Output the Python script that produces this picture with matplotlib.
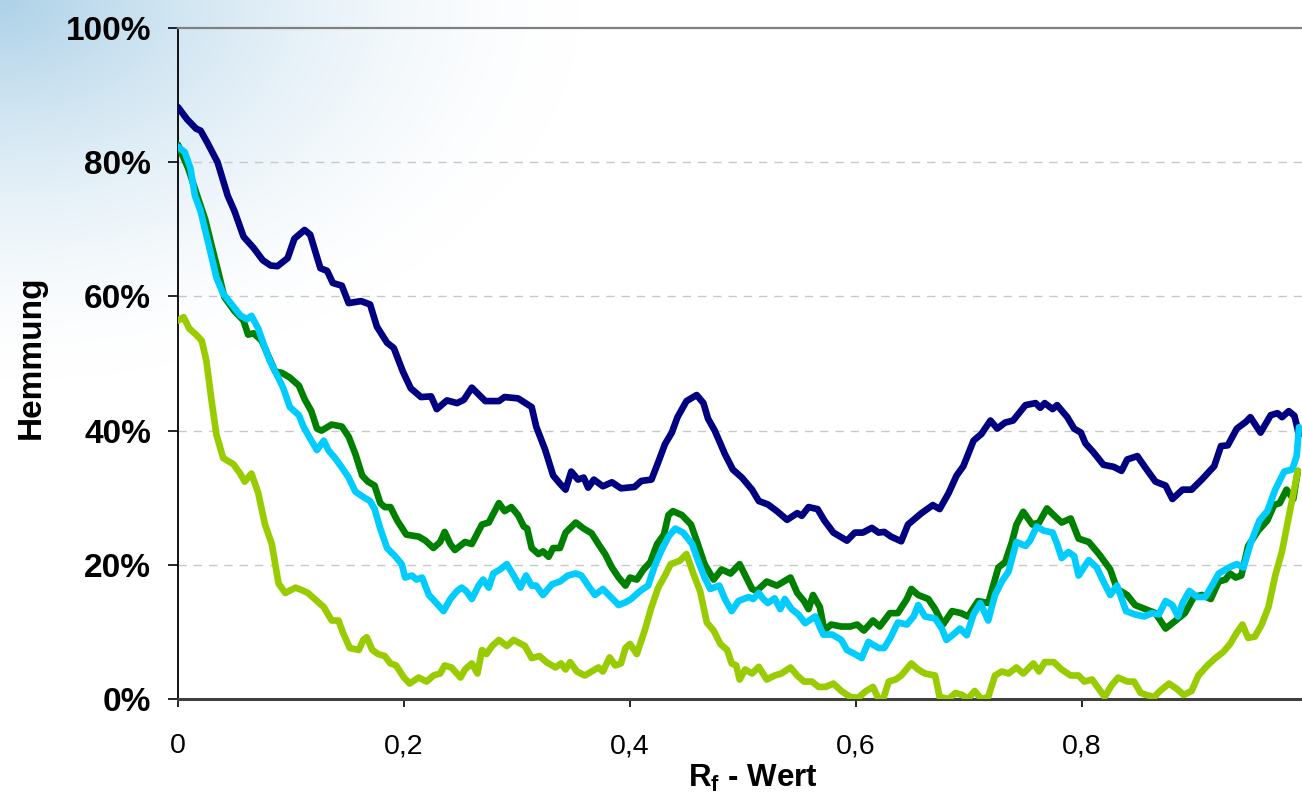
import numpy as np
import matplotlib
matplotlib.use("Agg")
import matplotlib.pyplot as plt

plt.rcParams['font.family'] = ['Liberation Sans', 'DejaVu Sans']
plt.rcParams['mathtext.fontset'] = 'custom'
plt.rcParams['mathtext.rm'] = 'Liberation Sans'
plt.rcParams['mathtext.bf'] = 'Liberation Sans:bold'
plt.rcParams['mathtext.it'] = 'Liberation Sans:italic'

# ---- data: inhibition (%) along the Rf axis, four tracks ----
navy_x = [0, .008, .016, .020, .026, .035, .044, .050, .058, .067, .075, .082, .088, .097, .103,
          .112, .117, .126, .132, .137, .145, .151, .162, .170, .176, .185, .191, .199, .206,
          .215, .224, .229, .238, .247, .253, .260, .272, .284, .289, .301, .313, .317, .325,
          .332, .338, .343, .348, .354, .359, .363, .368, .376, .384, .392, .404, .410, .419,
          .425, .431, .437, .442, .450, .459, .465, .469, .475, .484, .491, .499, .508, .514,
          .522, .530, .539, .548, .552, .558, .566, .572, .580, .592, .599, .606, .614, .620,
          .625, .631, .640, .646, .651, .658, .668, .674, .682, .689, .695, .704, .711, .719,
          .725, .732, .739, .750, .759, .763, .767, .774, .778, .787, .793, .799, .803, .810,
          .819, .828, .835, .840, .849, .856, .865, .874, .880, .889, .897, .906, .917, .923,
          .929, .937, .945, .949, .958, .967, .973, .977, .983, .988, .992]
navy_y = [88.2, 86.4, 85.0, 84.7, 82.9, 80.0, 75.0, 72.7, 68.9, 67.2, 65.4, 64.6, 64.5, 65.7, 68.6,
          69.9, 69.2, 64.2, 63.8, 62.0, 61.6, 59.0, 59.3, 58.8, 55.5, 53.1, 52.3, 48.8, 46.3,
          45.0, 45.1, 43.2, 44.5, 44.1, 44.6, 46.4, 44.4, 44.4, 45.0, 44.8, 43.5, 40.6, 37.1,
          33.3, 32.1, 31.2, 33.9, 32.7, 33.0, 31.5, 32.7, 31.7, 32.3, 31.4, 31.6, 32.5, 32.7,
          35.3, 38.0, 39.7, 42.0, 44.4, 45.3, 44.1, 41.8, 40.0, 36.5, 34.2, 33.0, 31.2, 29.5,
          29.0, 28.0, 26.7, 27.7, 27.3, 28.6, 28.3, 26.6, 24.8, 23.6, 24.8, 24.8, 25.5, 24.8,
          24.9, 24.2, 23.5, 26.0, 26.7, 27.7, 28.9, 28.3, 30.7, 33.3, 34.7, 38.5, 39.5, 41.5,
          40.3, 41.2, 41.5, 43.8, 44.1, 43.4, 44.1, 43.2, 43.8, 42.0, 40.3, 39.7, 38.1, 36.8,
          34.9, 34.6, 34.0, 35.7, 36.2, 34.5, 32.4, 31.8, 29.8, 31.2, 31.2, 32.7, 34.7, 37.7,
          37.8, 40.3, 41.3, 42.0, 39.7, 42.3, 42.6, 42.0, 42.9, 42.2, 39.4]

green_x = [0, .009, .018, .024, .030, .036, .041, .050, .058, .062, .067, .074, .080, .086, .092,
           .099, .107, .112, .118, .123, .127, .136, .145, .151, .157, .163, .168, .174, .179,
           .183, .188, .194, .202, .213, .219, .226, .232, .236, .241, .245, .254, .260, .269,
           .275, .284, .289, .295, .301, .306, .309, .313, .319, .323, .328, .332, .338, .343,
           .352, .359, .366, .372, .378, .384, .390, .396, .400, .406, .412, .418, .424, .430,
           .434, .438, .446, .454, .460, .466, .474, .481, .489, .497, .508, .512, .521, .530,
           .542, .548, .554, .558, .562, .568, .572, .578, .587, .595, .601, .607, .615, .621,
           .630, .637, .645, .649, .655, .664, .670, .677, .685, .693, .699, .708, .717, .726,
           .732, .738, .742, .748, .756, .762, .769, .775, .782, .790, .797, .806, .815, .825,
           .831, .840, .847, .856, .865, .874, .883, .891, .899, .906, .914, .921, .927, .931,
           .936, .941, .947, .956, .964, .970, .975, .981, .987, .991]
green_y = [82.6, 79.1, 74.5, 71.5, 67.4, 63.4, 59.9, 57.8, 56.4, 54.3, 54.5, 53.4, 51.1, 48.8, 48.6,
           47.9, 46.7, 44.7, 42.9, 40.3, 40.0, 40.9, 40.6, 39.1, 36.5, 33.3, 32.4, 31.8, 29.2,
           28.6, 28.6, 26.6, 24.5, 24.2, 23.6, 22.5, 23.4, 24.9, 23.1, 22.2, 23.4, 23.1, 26.0,
           26.3, 29.2, 28.0, 28.6, 27.4, 25.7, 25.4, 22.5, 21.6, 22.0, 21.2, 22.5, 22.5, 24.8,
           26.3, 25.4, 24.7, 23.1, 21.6, 19.6, 18.1, 16.9, 18.1, 17.8, 19.3, 20.4, 23.1, 24.5,
           27.4, 28.0, 27.4, 26.0, 23.1, 20.1, 17.8, 19.3, 18.7, 20.1, 16.4, 16.1, 17.5, 16.9,
           18.1, 15.8, 14.6, 13.4, 15.5, 13.7, 10.2, 11.1, 10.8, 10.8, 11.1, 10.2, 11.7, 10.8,
           12.8, 12.8, 14.9, 16.4, 15.5, 14.9, 13.4, 11.1, 13.1, 12.8, 12.3, 14.6, 14.3, 19.6,
           20.4, 23.4, 26.0, 27.9, 26.0, 26.3, 28.4, 27.4, 26.3, 26.9, 23.9, 23.4, 21.6, 19.3,
           16.4, 15.5, 14.0, 13.4, 12.8, 10.5, 11.7, 12.8, 15.2, 15.5, 14.9, 17.5, 17.8, 18.7,
           18.1, 18.4, 22.8, 25.1, 26.6, 28.9, 29.2, 31.2, 29.8, 34.0]

cyan_x = [0, .006, .011, .015, .020, .025, .030, .034, .040, .048, .055, .061, .065, .071, .076,
          .081, .087, .093, .099, .107, .111, .117, .123, .129, .133, .139, .145, .151, .157,
          .164, .170, .174, .179, .185, .192, .198, .201, .207, .211, .216, .222, .227, .235,
          .241, .247, .251, .255, .260, .266, .270, .275, .279, .285, .291, .297, .303, .308,
          .313, .317, .323, .331, .338, .345, .352, .357, .363, .369, .376, .383, .390, .396,
          .401, .409, .416, .422, .428, .434, .440, .447, .455, .460, .466, .471, .479, .484,
          .490, .496, .505, .509, .514, .518, .522, .528, .533, .537, .543, .549, .555, .564,
          .571, .579, .587, .592, .599, .605, .611, .620, .625, .631, .637, .645, .651, .655,
          .661, .670, .676, .680, .686, .692, .698, .704, .710, .717, .723, .729, .735, .742,
          .750, .754, .760, .766, .774, .778, .782, .788, .793, .797, .806, .813, .819, .825,
          .831, .839, .847, .855, .862, .868, .874, .880, .885, .889, .895, .902, .909, .915,
          .921, .930, .937, .943, .949, .957, .964, .971, .979, .986, .990, .992]
cyan_y = [82.3, 81.5, 79.1, 75.0, 72.7, 69.2, 65.7, 62.8, 60.4, 58.7, 57.2, 56.6, 57.1, 55.2, 52.8,
          50.5, 48.5, 46.4, 43.5, 42.3, 40.6, 38.8, 37.1, 38.5, 37.1, 35.9, 34.5, 33.0, 30.9,
          30.1, 29.5, 28.3, 25.4, 22.5, 21.3, 20.1, 18.1, 18.4, 17.8, 18.1, 15.5, 14.6, 13.1,
          14.9, 16.1, 16.6, 16.1, 14.9, 16.9, 17.8, 16.6, 18.7, 19.3, 20.1, 18.4, 16.6, 18.4,
          16.9, 16.9, 15.5, 17.1, 17.5, 18.4, 18.7, 18.4, 16.9, 15.5, 16.4, 15.2, 14.0, 14.4,
          14.9, 16.1, 16.9, 19.9, 22.2, 24.2, 25.4, 24.8, 23.1, 20.7, 18.1, 16.4, 16.9, 14.9,
          13.1, 14.6, 15.2, 14.9, 15.8, 14.9, 14.3, 15.0, 13.4, 14.9, 13.4, 12.6, 11.3, 12.3,
          9.6, 9.6, 8.8, 7.3, 6.7, 6.1, 8.5, 7.6, 7.6, 9.3, 11.4, 11.1, 12.3, 14.0,
          12.3, 12.0, 10.5, 8.8, 9.6, 10.5, 9.5, 12.6, 14.3, 11.7, 15.5, 17.5, 19.0, 23.4,
          22.8, 23.6, 25.7, 25.1, 24.8, 23.1, 21.0, 21.9, 21.3, 18.4, 20.7, 19.6, 17.5, 15.5,
          16.9, 13.1, 12.6, 12.3, 12.8, 12.6, 14.6, 14.0, 12.3, 14.3, 16.1, 15.2, 15.2, 16.9,
          18.7, 19.6, 20.1, 19.6, 23.1, 26.6, 28.0, 31.2, 33.9, 34.2, 36.2, 40.5]

lime_x = [0, .005, .010, .016, .021, .025, .030, .034, .040, .049, .055, .059, .065, .071, .077,
          .083, .089, .095, .104, .110, .115, .123, .129, .136, .142, .146, .152, .160, .164,
          .167, .172, .177, .183, .188, .193, .200, .205, .213, .220, .226, .232, .236, .242,
          .250, .254, .260, .265, .269, .273, .278, .284, .291, .297, .307, .313, .320, .326,
          .334, .339, .343, .347, .353, .360, .366, .372, .376, .382, .387, .392, .396, .400,
          .406, .413, .419, .425, .431, .436, .444, .450, .456, .462, .468, .474, .480, .486,
          .490, .494, .497, .502, .508, .514, .521, .528, .534, .542, .548, .554, .561, .567,
          .573, .580, .587, .595, .602, .609, .615, .620, .624, .629, .635, .640, .649, .655,
          .661, .670, .674, .682, .688, .694, .699, .705, .711, .717, .723, .729, .735, .742,
          .748, .757, .762, .767, .775, .782, .790, .797, .802, .809, .815, .820, .826, .832,
          .840, .846, .852, .857, .864, .869, .877, .884, .890, .897, .903, .911, .918, .925,
          .931, .937, .942, .947, .953, .959, .965, .971, .977, .984, .991]
lime_y = [56.4, 56.9, 55.2, 54.3, 53.4, 50.5, 44.1, 39.4, 35.9, 35.0, 33.6, 32.4, 33.6, 30.7, 26.0,
          23.1, 17.2, 15.8, 16.6, 16.2, 15.8, 14.6, 13.7, 11.7, 11.7, 9.9, 7.6, 7.3, 8.8,
          9.2, 7.3, 6.7, 6.4, 5.3, 5.0, 3.2, 2.3, 3.2, 2.6, 3.5, 3.8, 5.0, 4.7,
          3.2, 4.4, 5.3, 3.8, 7.3, 6.7, 7.9, 8.8, 7.9, 8.8, 7.9, 6.1, 6.4, 5.5,
          4.7, 5.3, 4.4, 5.5, 4.1, 3.5, 4.1, 4.7, 4.1, 6.2, 5.0, 5.3, 7.6, 8.2,
          6.7, 10.2, 13.7, 16.6, 18.4, 20.1, 20.6, 21.6, 18.7, 16.1, 11.4, 10.2, 8.2, 7.3,
          5.3, 5.0, 2.9, 4.4, 3.8, 4.8, 2.9, 3.5, 3.8, 4.7, 3.5, 2.6, 2.6, 1.8,
          1.8, 2.3, 1.2, 0.3, 0.2, 1.2, 1.8, 0.0, 0.0, 2.6, 2.9, 3.5, 5.3, 4.4,
          3.8, 3.5, 0.3, 0.0, 0.9, 0.6, 0.0, 1.2, 0.0, 0.3, 3.5, 4.1, 3.8, 4.7,
          3.8, 5.3, 4.1, 5.5, 5.5, 4.4, 3.5, 3.5, 2.6, 2.9, 1.5, 0.3, 2.0, 3.2,
          2.6, 2.6, 0.9, 0.6, 0.3, 1.2, 2.3, 1.5, 0.6, 1.2, 3.5, 5.0, 6.1, 7.0,
          8.2, 9.9, 11.1, 9.1, 9.3, 11.1, 13.7, 18.4, 22.0, 28.0, 34.0]

series = [(navy_x, navy_y, '#000080'),
          (green_x, green_y, '#008000'),
          (cyan_x, cyan_y, '#00CCFF'),
          (lime_x, lime_y, '#99CC00')]

y_ticks = [0, 20, 40, 60, 80, 100]
y_labels = ['0%', '20%', '40%', '60%', '80%', '100%']
x_ticks = [0, 0.2, 0.4, 0.6, 0.8]
x_labels = ['0', '0,2', '0,4', '0,6', '0,8']

W, H = 1302, 797
fig = plt.figure(figsize=(W / 100, H / 100), dpi=100)

# soft blue backdrop fading out from the upper left corner
bg = fig.add_axes([0, 0, 1, 1], zorder=-10)
yy, xx = np.mgrid[0:H, 0:W]
r = np.sqrt((xx / 580.0) ** 2 + (yy / 380.0) ** 2)
a = np.clip(1 - r, 0, 1) ** 1.6
blue = np.array([0.68, 0.82, 0.91])
img = np.ones((H, W, 3)) * (1 - a[..., None]) + blue * a[..., None]
bg.imshow(img, extent=[0, W, H, 0], aspect='auto', interpolation='bilinear')
bg.set_axis_off()

ax = fig.add_axes([178 / W, 98 / H, (W - 178) / W, 671 / H])
ax.set_facecolor('none')

for xs, ys, col in series:
    ax.plot(xs, ys, color=col, lw=4.8, solid_joinstyle='round', solid_capstyle='round', zorder=3)

ax.set_xlim(0, (W - 178) / 1130)
ax.set_ylim(0, 100)

ax.set_yticks(y_ticks)
ax.set_yticklabels(y_labels, fontsize=24, fontweight='bold')
ax.set_xticks(x_ticks)
ax.set_xticklabels(x_labels, fontsize=20.5)
ax.tick_params(axis='y', direction='out', length=7.5, width=1.2, pad=12, colors='black')
ax.tick_params(axis='x', direction='out', length=6, width=1.2, pad=18.5, colors='black')

for g in [20, 40, 60, 80]:
    ax.axhline(g, color='#c8c8c8', lw=1.0, dashes=(6, 5), zorder=1)

ax.spines['right'].set_visible(False)
ax.spines['top'].set_color('#808080')
ax.spines['top'].set_linewidth(1.6)
ax.spines['left'].set_color('black')
ax.spines['left'].set_linewidth(1.3)
ax.spines['bottom'].set_color('#404040')
ax.spines['bottom'].set_linewidth(2.2)

fig.text(753 / W, (H - 787) / H, r'$\mathbf{R_f}$ - Wert', fontsize=22.5, fontweight='bold',
         ha='center', va='baseline')
fig.text(31 / W, (H - 357) / H, 'Hemmung', fontsize=24, fontweight='bold',
         rotation=90, ha='center', va='center')

fig.savefig('out.png', dpi=100)
